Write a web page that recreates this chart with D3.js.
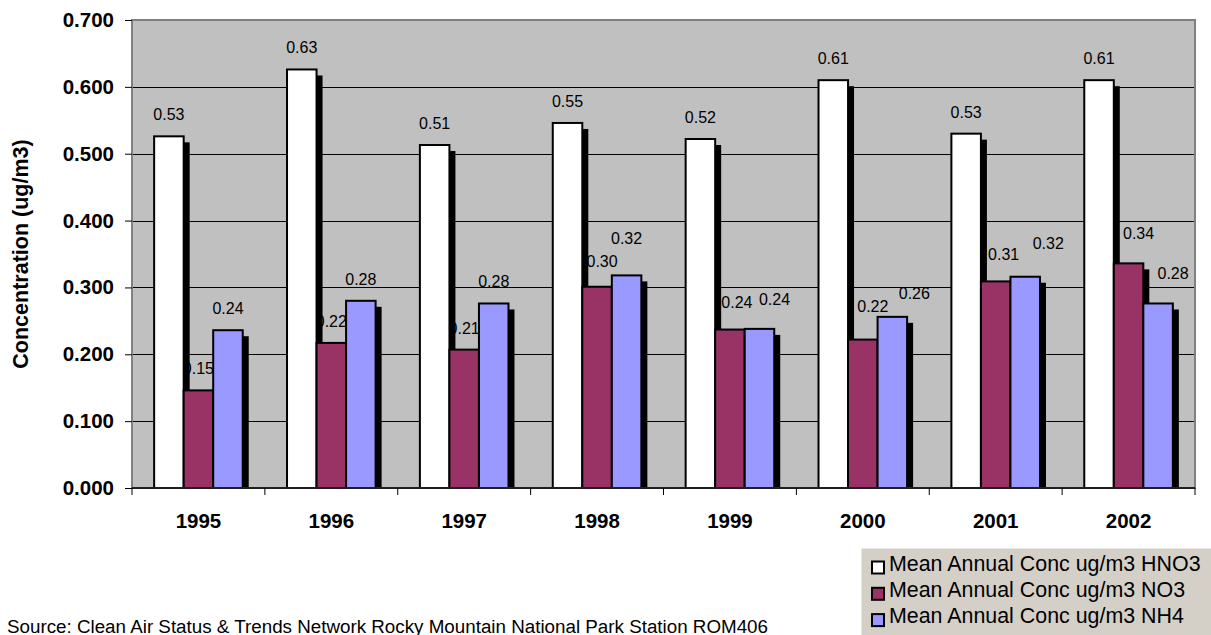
<!DOCTYPE html>
<html>
<head>
<meta charset="utf-8">
<script src="https://cdn.jsdelivr.net/npm/d3@7/dist/d3.min.js"></script>
<style>
  html, body { margin: 0; padding: 0; background: #fff; }
  svg { display: block; font-family: Arial, "Liberation Sans", sans-serif; }
</style>
</head>
<body>
<svg id="chart" width="1211" height="635"></svg>
<script>
// Annual mean concentrations, Rocky Mountain NP (CASTNet ROM406)
const years = ["1995", "1996", "1997", "1998", "1999", "2000", "2001", "2002"];
const seriesNames = [
  "Mean Annual Conc ug/m3 HNO3",
  "Mean Annual Conc ug/m3 NO3",
  "Mean Annual Conc ug/m3 NH4"
];
const hno3 = [0.526, 0.626, 0.513, 0.546, 0.522, 0.610, 0.530, 0.610];
const no3  = [0.146, 0.217, 0.207, 0.301, 0.237, 0.222, 0.309, 0.336];
const nh4  = [0.236, 0.280, 0.276, 0.318, 0.238, 0.256, 0.316, 0.276];
const yTicks = [0, 0.1, 0.2, 0.3, 0.4, 0.5, 0.6, 0.7];

// Hand-placed label nudges [dx, dy] per series and year
const labelNudgeNO3 = [[0,0],[0,0],[0,0],[5,-4],[7,-6],[10,-12],[8,-5],[10,-8]];
const labelNudgeNH4 = [[0,0],[0,0],[0,0],[0,-15],[15,-8],[22,-2],[23,-12],[15,-8]];
const labelNudgeHNO3 = years.map(() => [0, 0]);

const colors = ["#FFFFFF", "#993366", "#9999FF"];
const seriesValues = [hno3, no3, nh4];
const nudges = [labelNudgeHNO3, labelNudgeNO3, labelNudgeNH4];

const svg = d3.select("#chart");
const plot = { left: 132, right: 1195, top: 20, bottom: 488 };

const x = d3.scaleBand().domain(years).range([plot.left, plot.right]).padding(0);
const xs = d3.scaleBand().domain(d3.range(3)).range([0, x.bandwidth()])
  .paddingInner(0).paddingOuter(0.75);
const y = d3.scaleLinear().domain([0, 0.7]).range([plot.bottom, plot.top]);

// plot area background
svg.append("rect")
  .attr("x", plot.left).attr("y", plot.top)
  .attr("width", plot.right - plot.left).attr("height", plot.bottom - plot.top)
  .attr("fill", "#C0C0C0");

// horizontal gridlines
svg.append("g").selectAll("line")
  .data(yTicks.filter(t => t > 0 && t < 0.7))
  .join("line")
  .attr("x1", plot.left).attr("x2", plot.right)
  .attr("y1", d => Math.round(y(d)) + 0.5).attr("y2", d => Math.round(y(d)) + 0.5)
  .attr("stroke", "#000").attr("stroke-width", 1);

// rows of records for drawing
const records = [];
seriesValues.forEach((vals, si) => {
  vals.forEach((v, i) => records.push({ si, year: years[i], v, nudge: nudges[si][i] }));
});

// value labels (sit beneath bars and shadows)
svg.append("g").selectAll("text")
  .data(records)
  .join("text")
  .attr("x", d => x(d.year) + xs(d.si) + xs.bandwidth() / 2 + d.nudge[0])
  .attr("y", d => y(d.v) - 16 + d.nudge[1])
  .attr("text-anchor", "middle")
  .attr("font-size", "16px")
  .attr("fill", "#000")
  .text(d => d.v.toFixed(2));

// bars with drop shadows, drawn series by series
const barLayer = svg.append("g");
seriesValues.forEach((vals, si) => {
  const recs = records.filter(r => r.si === si);
  barLayer.append("g").selectAll("rect")
    .data(recs)
    .join("rect")
    .attr("x", d => x(d.year) + xs(si) + 6)
    .attr("y", d => y(d.v) + 6)
    .attr("width", xs.bandwidth())
    .attr("height", d => Math.max(0, y(0) - y(d.v) - 6))
    .attr("fill", "#000");
  barLayer.append("g").selectAll("rect")
    .data(recs)
    .join("rect")
    .attr("x", d => x(d.year) + xs(si))
    .attr("y", d => y(d.v))
    .attr("width", xs.bandwidth())
    .attr("height", d => y(0) - y(d.v))
    .attr("fill", colors[si])
    .attr("stroke", "#000")
    .attr("stroke-width", 2);
});

// plot border
svg.append("rect")
  .attr("x", plot.left).attr("y", plot.top)
  .attr("width", plot.right - plot.left).attr("height", plot.bottom - plot.top)
  .attr("fill", "none").attr("stroke", "#808080").attr("stroke-width", 2);

// y axis
const yAxis = d3.axisLeft(y).tickValues(yTicks).tickFormat(d3.format(".3f"))
  .tickSize(7).tickPadding(11);
const gy = svg.append("g").attr("transform", `translate(${plot.left},0)`).call(yAxis);
gy.select(".domain").remove();
gy.selectAll(".tick line").attr("stroke", "#000");
gy.selectAll(".tick text")
  .attr("font-family", "Arial, 'Liberation Sans', sans-serif")
  .attr("font-size", "20.5px").attr("font-weight", "bold").attr("fill", "#000");

// x axis with ticks between categories
const gx = svg.append("g").attr("transform", `translate(0,${plot.bottom})`);
gx.append("line").attr("x1", plot.left).attr("x2", plot.right)
  .attr("y1", 0).attr("y2", 0).attr("stroke", "#000").attr("stroke-width", 1.5);
gx.selectAll("line.tick")
  .data(years.map(yr => x(yr)).concat([plot.right]))
  .join("line").attr("class", "tick")
  .attr("x1", d => d).attr("x2", d => d).attr("y1", 0).attr("y2", 7)
  .attr("stroke", "#000");
gx.selectAll("text")
  .data(years)
  .join("text")
  .attr("x", d => x(d) + x.bandwidth() / 2)
  .attr("y", 39.5)
  .attr("text-anchor", "middle")
  .attr("font-size", "20.5px").attr("font-weight", "bold")
  .text(d => d);

// y axis title
svg.append("text")
  .attr("transform", `translate(28,${(plot.top + plot.bottom) / 2}) rotate(-90)`)
  .attr("text-anchor", "middle")
  .attr("font-size", "21.5px").attr("font-weight", "bold")
  .text("Concentration (ug/m3)");

// source note
svg.append("text")
  .attr("x", 7).attr("y", 632.5)
  .attr("font-size", "18.8px")
  .text("Source: Clean Air Status & Trends Network Rocky Mountain National Park Station ROM406");

// legend
const legend = svg.append("g");
legend.append("rect")
  .attr("x", 861.5).attr("y", 548.5).attr("width", 360).attr("height", 100)
  .attr("fill", "#D4D0C8");
const items = legend.selectAll("g.item")
  .data(seriesNames)
  .join("g").attr("class", "item")
  .attr("transform", (d, i) => `translate(0,${i * 26.3})`);
items.append("rect")
  .attr("x", 872).attr("y", 561.5).attr("width", 12).attr("height", 12)
  .attr("fill", (d, i) => colors[i]).attr("stroke", "#000").attr("stroke-width", 2);
items.append("text")
  .attr("x", 889).attr("y", 570.5)
  .attr("font-size", "21.4px")
  .text(d => d);
</script>
</body>
</html>
